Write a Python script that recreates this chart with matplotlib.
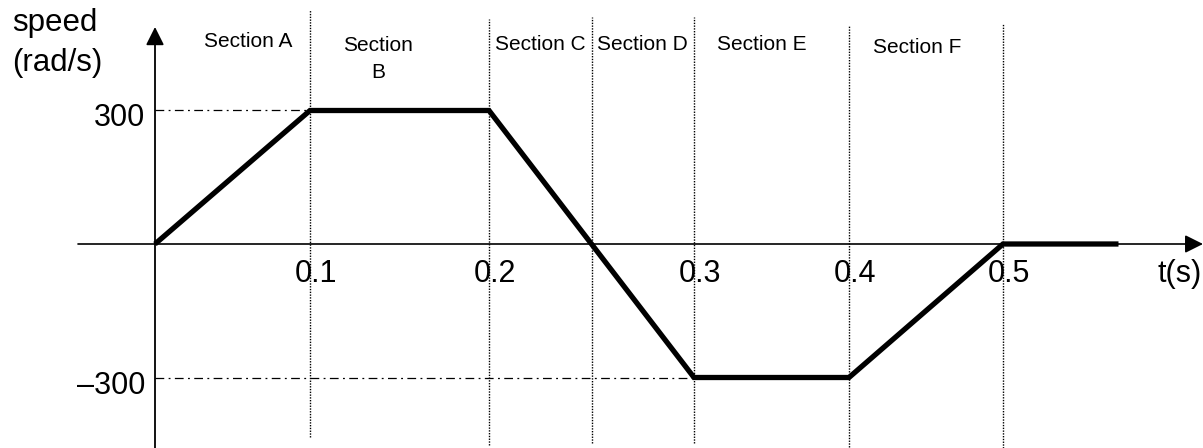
import numpy as np
import matplotlib
matplotlib.use('Agg')
import matplotlib.pyplot as plt

plt.rcParams['font.family'] = ['Liberation Sans', 'DejaVu Sans']

# speed profile
t_pts = [0, 0.1, 0.2, 0.3, 0.4, 0.5, 0.575]
speed_pts = [0, 300, 300, -300, -300, 0, 0]

section_bounds = [0.1, 0.2, 0.25, 0.3, 0.4, 0.5]
section_names = ['Section A', 'Section\nB', 'Section C', 'Section D', 'Section E', 'Section F']

x_ticks = [0.1, 0.2, 0.3, 0.4, 0.5]
x_tick_labels = ['0.1', '0.2', '0.3', '0.4', '0.5']
y_ticks = [300, -300]
y_tick_labels = ['300', '\u2013300']

W, H = 1203, 448

# the sketch is not drawn to a uniform time scale -> piecewise linear x scale
knot_t = [-1.0, 0, 0.1, 0.2, 0.3, 0.4, 0.5, 1.5]
knot_px = [155 - 1550, 155, 310, 489, 694, 849, 1003, 1003 + 1540]

def fwd(t):
    return np.interp(t, knot_t, knot_px)

def inv(p):
    return np.interp(p, knot_px, knot_t)

def fy(py):
    return 1 - py / H

def fx(px):
    return px / W

fig = plt.figure(figsize=(W / 100, H / 100), dpi=100)
ax = fig.add_axes([0, 0, 1, 1])
ax.set_xscale('function', functions=(fwd, inv))
ax.set_xlim(inv(0), inv(W))
ax.set_ylim(-(H - 244) / 0.445, 244 / 0.445)
ax.axis('off')

xt = ax.get_xaxis_transform()

# section dividers (dotted)
tops = [10, 19, 17, 17, 25, 24]
bots = [437, 445, 443, 443, 447, 448]
for b, tp, bt in zip(section_bounds, tops, bots):
    ax.plot([b, b], [fy(bt), fy(tp)], transform=xt, color='black',
            lw=1.0, linestyle=(0, (1, 1)))

# reference dash-dot lines
ax.plot([0, 0.1], [300, 300], color='black', lw=0.9, linestyle=(0, (7, 3.5, 1.5, 3.5)))
ax.plot([0, 0.3], [-300, -300], color='black', lw=0.9, linestyle=(0, (7, 3.5, 1.5, 3.5)))

# axes with arrows
ax.annotate('', xy=(1.0, 0), xycoords=('axes fraction', 'data'),
            xytext=(fx(78), 0), textcoords=('axes fraction', 'data'),
            arrowprops=dict(arrowstyle='-|>,head_length=1.0,head_width=0.5',
                            color='black', lw=1.2, mutation_scale=11,
                            shrinkA=0, shrinkB=0))
ax.annotate('', xy=(0, fy(27)), xycoords=('data', 'axes fraction'),
            xytext=(0, 0), textcoords=('data', 'axes fraction'),
            arrowprops=dict(arrowstyle='-|>,head_length=1.0,head_width=0.5',
                            color='black', lw=1.3, mutation_scale=11,
                            shrinkA=0, shrinkB=0))

# speed curve
ax.plot(t_pts, speed_pts, color='black', lw=3.8,
        solid_joinstyle='miter', solid_capstyle='butt', zorder=5)

# tick labels
for t, lab in zip(x_ticks, x_tick_labels):
    ax.annotate(lab, xy=(t, 0), xytext=(6, -38), textcoords='offset pixels',
                ha='center', va='baseline', fontsize=22)
for v, lab in zip(y_ticks, y_tick_labels):
    ax.annotate(lab, xy=(0, v), xytext=(-10, -16), textcoords='offset pixels',
                ha='right', va='baseline', fontsize=22)

ax.text(fx(1180), fy(282), 't(s)', transform=ax.transAxes,
        ha='center', va='baseline', fontsize=22)

ax.text(fx(12), fy(31), 'speed', transform=ax.transAxes,
        ha='left', va='baseline', fontsize=22.5)
ax.text(fx(12), fy(71), '(rad/s)', transform=ax.transAxes,
        ha='left', va='baseline', fontsize=22.5)

# section names
label_t = [0.06, 0.138, 0.225, 0.275, 0.344, 0.444]
label_base = [47, 78, 50, 50, 50, 53]
for t, name, yb in zip(label_t, section_names, label_base):
    ax.text(t, fy(yb), name, transform=xt, ha='center', va='baseline',
            fontsize=15, linespacing=1.55)

fig.savefig('out.png', dpi=100)
